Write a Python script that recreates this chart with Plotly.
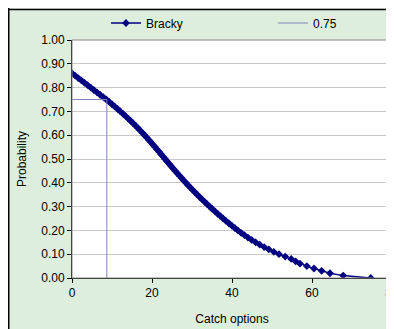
import plotly.graph_objects as go

# Bracky catch options (x) and probability (y)
catch_options = [0.00, 0.78, 1.56, 2.34, 3.12, 3.90, 4.68, 5.46, 6.24, 7.02, 7.80, 8.60, 9.30, 10.00,
                 10.70, 11.40, 12.10, 12.76, 13.41, 14.05, 14.67, 15.28, 15.88, 16.46, 17.03, 17.59,
                 18.14, 18.68, 19.21, 19.73, 20.25, 20.76, 21.27, 21.77, 22.27, 22.77, 23.27, 23.77,
                 24.27, 24.78, 25.29, 25.81, 26.33, 26.86, 27.39, 27.93, 28.47, 29.02, 29.58, 30.15,
                 30.73, 31.32, 31.92, 32.53, 33.15, 33.78, 34.42, 35.07, 35.73, 36.40, 37.08, 37.78,
                 38.49, 39.21, 39.95, 40.70, 41.47, 42.27, 43.11, 43.99, 44.92, 45.90, 46.94, 48.04,
                 49.21, 50.45, 51.75, 53.30, 54.80, 55.90, 57.00, 58.70, 60.50, 62.40, 64.50, 67.80,
                 74.70]
probability = [0.86, 0.85, 0.84, 0.83, 0.82, 0.81, 0.80, 0.79, 0.78, 0.77, 0.76, 0.75, 0.74, 0.73,
               0.72, 0.71, 0.70, 0.69, 0.68, 0.67, 0.66, 0.65, 0.64, 0.63, 0.62, 0.61, 0.60, 0.59,
               0.58, 0.57, 0.56, 0.55, 0.54, 0.53, 0.52, 0.51, 0.50, 0.49, 0.48, 0.47, 0.46, 0.45,
               0.44, 0.43, 0.42, 0.41, 0.40, 0.39, 0.38, 0.37, 0.36, 0.35, 0.34, 0.33, 0.32, 0.31,
               0.30, 0.29, 0.28, 0.27, 0.26, 0.25, 0.24, 0.23, 0.22, 0.21, 0.20, 0.19, 0.18, 0.17,
               0.16, 0.15, 0.14, 0.13, 0.12, 0.11, 0.10, 0.09, 0.08, 0.07, 0.06, 0.05, 0.04, 0.03,
               0.02, 0.01, 0.00]

# 0.75 reference line
ref_level = 0.75
ref_catch = 8.7
ref_x = [0, ref_catch, ref_catch]
ref_y = [ref_level, ref_level, 0]

y_ticks = [0.0, 0.1, 0.2, 0.3, 0.4, 0.5, 0.6, 0.7, 0.8, 0.9, 1.0]
x_ticks = [0, 20, 40, 60, 80]

FONT = "Liberation Sans, Arial, sans-serif"
NAVY = "#000080"
BG = "#DDEEDD"

fig = go.Figure()
fig.add_trace(go.Scatter(
    x=catch_options, y=probability, name="Bracky", mode="lines+markers",
    line=dict(color=NAVY, width=1.5),
    marker=dict(symbol="diamond", size=6, color=NAVY),
    legend="legend",
))
fig.add_trace(go.Scatter(
    x=ref_x, y=ref_y, name="0.75", mode="lines",
    line=dict(color="#8484BC", width=1),
    legend="legend2",
))

# page body has an 8px margin, so the figure is sized to end at the window edge
FW, FH = 386, 321
L, T, W, H = 64, 32, 320, 238
leg_common = dict(orientation="h", xref="container", yref="container",
                  xanchor="left", yanchor="middle", bgcolor="rgba(0,0,0,0)",
                  font=dict(family=FONT, size=12), itemwidth=30)
fig.update_layout(
    width=FW, height=FH,
    margin=dict(l=L, r=FW - L - W, t=T, b=FH - T - H, pad=0),
    paper_bgcolor=BG, plot_bgcolor="white",
    font=dict(family=FONT, size=12, color="black"),
    showlegend=True,
    legend=dict(x=98 / FW, y=1 - 15 / FH, **leg_common),
    legend2=dict(x=265 / FW, y=1 - 15 / FH, **leg_common),
    shapes=[
        dict(type="line", xref="paper", yref="paper", layer="below",
             x0=-(L - 0.75) / W, x1=-(L - 0.75) / W, y0=-0.3, y1=(H + T) / H,
             line=dict(color="black", width=1.5)),
        dict(type="line", xref="paper", yref="paper", layer="below",
             x0=-(L - 0.75) / W, x1=1.2, y0=(H + T - 1.5) / H, y1=(H + T - 1.5) / H,
             line=dict(color="black", width=1.5)),
        dict(type="rect", xref="paper", yref="paper", layer="above",
             x0=0, x1=1, y0=0, y1=1,
             fillcolor="rgba(0,0,0,0)", line=dict(color="#888888", width=1)),
    ],
)
fig.update_xaxes(
    range=[0, 80], tickvals=x_ticks, ticks="outside", ticklen=4, tickcolor="black",
    showline=True, linecolor="black", linewidth=1, showgrid=False, zeroline=False,
    automargin=False, ticklabeloverflow="allow",
    title=dict(text="Catch options", font=dict(family=FONT, size=12), standoff=15),
    tickfont=dict(family=FONT, size=12),
)
fig.update_yaxes(
    range=[0, 1], tickvals=y_ticks, tickformat=".2f", ticks="outside", ticklen=4,
    tickcolor="black", showline=True, linecolor="black", linewidth=1,
    showgrid=True, gridcolor="#C8C8C8", gridwidth=1, zeroline=False,
    automargin=False, ticklabeloverflow="allow",
    title=dict(text="Probability", font=dict(family=FONT, size=12), standoff=12),
    tickfont=dict(family=FONT, size=12),
)

fig.write_html("out.html")
